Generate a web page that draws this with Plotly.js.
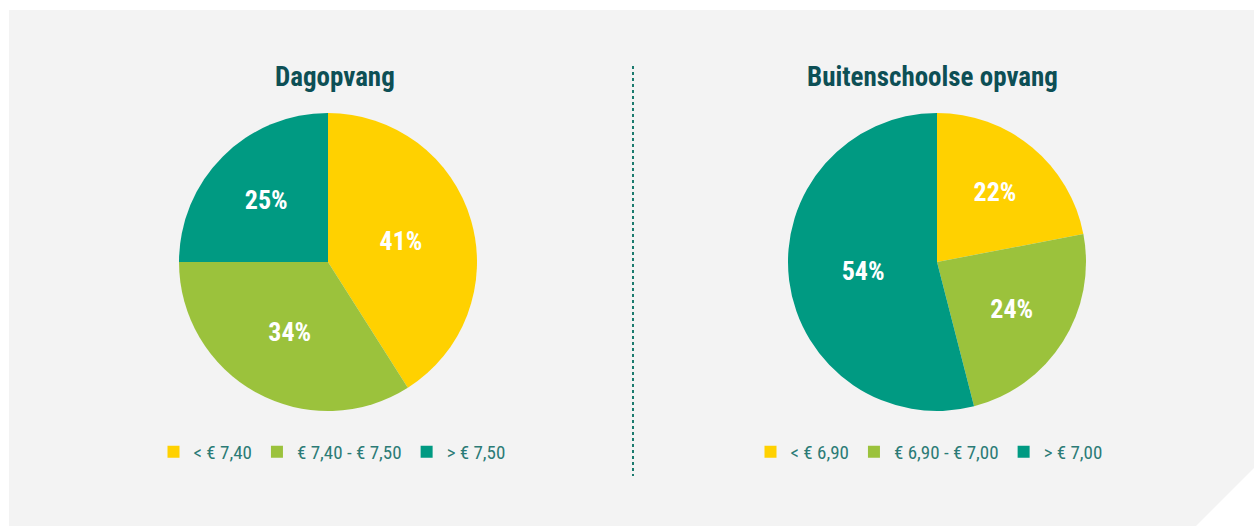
<!DOCTYPE html>
<html>
<head>
<meta charset="utf-8">
<script src="https://cdn.plot.ly/plotly-3.0.1.min.js"></script>
<style>
  html, body { margin: 0; padding: 0; background: #ffffff; }
  #chart { width: 1254px; height: 526px; }
</style>
</head>
<body>
<div id="chart"></div>
<script>
// Data
const dagTitle = "Dagopvang";
const dagLabels = ["< € 7,40", "€ 7,40 - € 7,50", "> € 7,50"];
const dagValues = [41, 34, 25];

const bsoTitle = "Buitenschoolse opvang";
const bsoLabels = ["< € 6,90", "€ 6,90 - € 7,00", "> € 7,00"];
const bsoValues = [22, 24, 54];

const sliceColors = ["#FFD100", "#9BC23C", "#009A82"];

const W = 1254, H = 526;
const FONT = "'Liberation Sans Narrow', 'Roboto Condensed', 'DejaVu Sans Condensed', Arial, sans-serif";
const TITLE_COLOR = "#0D4F55";
const LEGEND_COLOR = "#2B7B76";

function pieTrace(labels, values, cx, legendId) {
  const r = 149;
  const cyTop = 262;
  return {
    type: "pie",
    labels: labels,
    values: values,
    sort: false,
    direction: "clockwise",
    rotation: 0,
    marker: { colors: sliceColors, line: { width: 0 } },
    texttemplate: "%{percent:.0%}",
    textinfo: "percent",
    textposition: "inside",
    insidetextorientation: "horizontal",
    textfont: { family: FONT, size: 26, color: "#ffffff", weight: "bold" },
    hoverinfo: "label+percent",
    domain: {
      x: [(cx - r) / W, (cx + r) / W],
      y: [(H - cyTop - r) / H, (H - cyTop + r) / H]
    },
    legend: legendId,
    showlegend: true
  };
}

const traces = [
  pieTrace(dagLabels, dagValues, 328, "legend"),
  pieTrace(bsoLabels, bsoValues, 937, "legend2")
];

const legendCommon = {
  orientation: "h",
  xanchor: "center",
  yanchor: "middle",
  y: (H - 452) / H,
  bgcolor: "rgba(0,0,0,0)",
  font: { family: FONT, size: 19, color: LEGEND_COLOR },
  traceorder: "normal",
  itemclick: false,
  itemdoubleclick: false
};

const layout = {
  width: W,
  height: H,
  margin: { l: 0, r: 0, t: 0, b: 0 },
  paper_bgcolor: "#ffffff",
  plot_bgcolor: "#ffffff",
  showlegend: true,
  legend: Object.assign({}, legendCommon, { x: 332 / W }),
  legend2: Object.assign({}, legendCommon, { x: 929 / W }),
  shapes: [
    {
      type: "path",
      xref: "paper", yref: "paper",
      path: `M ${9 / W} ${1 - 10 / H} L ${1} ${1 - 10 / H} L 1 ${1 - 468 / H} L ${1196 / W} 0 L ${9 / W} 0 Z`,
      fillcolor: "#F3F3F3",
      line: { width: 0 },
      layer: "below"
    },
    {
      type: "line",
      xref: "paper", yref: "paper",
      x0: 633 / W, x1: 633 / W,
      y0: 1 - 66 / H, y1: 1 - 476 / H,
      line: { color: "#1A7A6E", width: 2, dash: "dot" }
    }
  ],
  annotations: [
    {
      text: "<b>" + dagTitle + "</b>",
      xref: "paper", yref: "paper",
      x: 335 / W, y: 1 - 77 / H,
      xanchor: "center", yanchor: "middle",
      showarrow: false,
      font: { family: FONT, size: 27, color: TITLE_COLOR }
    },
    {
      text: "<b>" + bsoTitle + "</b>",
      xref: "paper", yref: "paper",
      x: 932 / W, y: 1 - 77 / H,
      xanchor: "center", yanchor: "middle",
      showarrow: false,
      font: { family: FONT, size: 27, color: TITLE_COLOR }
    }
  ]
};

Plotly.newPlot("chart", traces, layout, { displayModeBar: false, staticPlot: true });
</script>
</body>
</html>
